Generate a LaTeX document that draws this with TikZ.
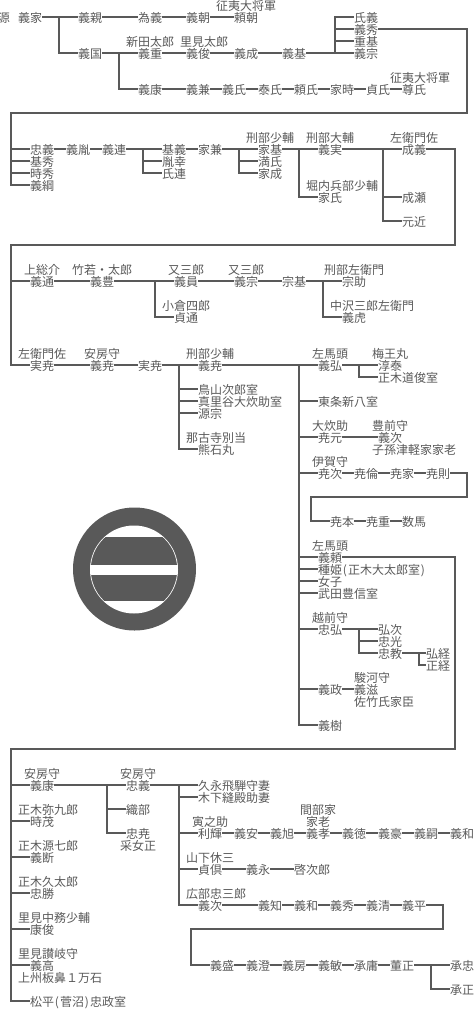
\documentclass[tikz,border=0pt]{standalone}
\usepackage{fontspec}
\setmainfont{Noto Sans CJK JP}
\definecolor{ink}{HTML}{595959}
\newcommand{\hwp}[1]{\makebox[6pt][c]{#1}}
\tikzset{
  nm/.style={anchor=west,inner sep=0pt,outer sep=0pt,text=ink,font=\fontsize{12pt}{12pt}\selectfont,text height=11.5pt,text depth=0.38pt},
  ln/.style={draw=ink,line width=2pt,line join=miter}
}
\begin{document}
\begin{tikzpicture}[x=1pt,y=-1pt]
\useasboundingbox (0,0) rectangle (474,1020);
% block 1
\node[nm] (gen) at (-2,17) {源};
\node[nm] (a1) at (18,17) {義家};
\node[nm] (a2) at (78,17) {義親};
\node[nm] (a3) at (138,17) {為義};
\node[nm] (a4) at (186,17) {義朝};
\node[nm] (a5) at (234,17) {頼朝};
\node[nm] (a5l) at (216,5) {征夷大将軍};
\node[nm] (b1) at (78,53) {義国};
\node[nm] (b2) at (138,53) {義重};
\node[nm] (b2l) at (126,41) {新田太郎};
\node[nm] (b3) at (186,53) {義俊};
\node[nm] (b3l) at (180,41) {里見太郎};
\node[nm] (b4) at (234,53) {義成};
\node[nm] (b5) at (282,53) {義基};
\node[nm] (c1) at (354,17) {氏義};
\node[nm] (c2) at (354,29) {義秀};
\node[nm] (c3) at (354,41) {重基};
\node[nm] (c4) at (354,53) {義宗};
\node[nm] (d1) at (138,89) {義康};
\node[nm] (d2) at (186,89) {義兼};
\node[nm] (d3) at (222,89) {義氏};
\node[nm] (d4) at (258,89) {泰氏};
\node[nm] (d5) at (294,89) {頼氏};
\node[nm] (d6) at (330,89) {家時};
\node[nm] (d7) at (366,89) {貞氏};
\node[nm] (d8) at (402,89) {尊氏};
\node[nm] (d8l) at (390,77) {征夷大将軍};
\draw[ln] (a1.east) -- (a2.west);
\draw[ln] (a2.east) -- (a3.west);
\draw[ln] (a3.east) -- (a4.west);
\draw[ln] (a4.east) -- (a5.west);
\coordinate (j1) at (59,17);
\draw[ln] (j1) |- (b1.west);
\draw[ln] (b1.east) -- (b2.west);
\draw[ln] (b2.east) -- (b3.west);
\draw[ln] (b3.east) -- (b4.west);
\draw[ln] (b4.east) -- (b5.west);
\draw[ln] (b5.east) -- (c4.west);
\coordinate (j2) at (335,53);
\draw[ln] (j2) |- (c1.west);
\draw[ln] (j2 |- c2.west) -- (c2.west);
\draw[ln] (j2 |- c3.west) -- (c3.west);
\coordinate (j3) at (119,53);
\draw[ln] (j3) |- (d1.west);
\draw[ln] (d1.east) -- (d2.west);
\draw[ln] (d2.east) -- (d3.west);
\draw[ln] (d3.east) -- (d4.west);
\draw[ln] (d4.east) -- (d5.west);
\draw[ln] (d5.east) -- (d6.west);
\draw[ln] (d6.east) -- (d7.west);
\draw[ln] (d7.east) -- (d8.west);
% block 2
\node[nm] (e1) at (30,149) {忠義};
\node[nm] (e2) at (30,161) {基秀};
\node[nm] (e3) at (30,173) {時秀};
\node[nm] (e4) at (30,185) {義綱};
\node[nm] (e5) at (66,149) {義胤};
\node[nm] (e6) at (102,149) {義連};
\node[nm] (f1) at (162,149) {基義};
\node[nm] (f2) at (162,161) {胤幸};
\node[nm] (f3) at (162,173) {氏連};
\node[nm] (f4) at (198,149) {家兼};
\node[nm] (g1) at (258,149) {家基};
\node[nm] (g1l) at (246,137) {刑部少輔};
\node[nm] (g2) at (258,161) {満氏};
\node[nm] (g3) at (258,173) {家成};
\node[nm] (h1) at (318,149) {義実};
\node[nm] (h1l) at (306,137) {刑部大輔};
\node[nm] (h2) at (318,197) {家氏};
\node[nm] (h2l) at (306,185) {堀内兵部少輔};
\node[nm] (i1) at (402,149) {成義};
\node[nm] (i1l) at (390,137) {左衛門佐};
\node[nm] (i2) at (402,197) {成瀬};
\node[nm] (i3) at (402,221) {元近};
\coordinate (r1) at (467,29);
\coordinate (r2) at (467,113);
\coordinate (r3) at (11,113);
\draw[ln] (c2.east) -- (r1) -- (r2) -- (r3) |- (e4.west);
\draw[ln] (r3 |- e1.west) -- (e1.west);
\draw[ln] (r3 |- e2.west) -- (e2.west);
\draw[ln] (r3 |- e3.west) -- (e3.west);
\draw[ln] (e1.east) -- (e5.west);
\draw[ln] (e5.east) -- (e6.west);
\draw[ln] (e6.east) -- (f1.west);
\coordinate (j4) at (143,149);
\draw[ln] (j4) |- (f3.west);
\draw[ln] (j4 |- f2.west) -- (f2.west);
\draw[ln] (f1.east) -- (f4.west);
\draw[ln] (f4.east) -- (g1.west);
\coordinate (j5) at (239,149);
\draw[ln] (j5) |- (g3.west);
\draw[ln] (j5 |- g2.west) -- (g2.west);
\draw[ln] (g1.east) -- (h1.west);
\coordinate (j6) at (299,149);
\draw[ln] (j6) |- (h2.west);
\draw[ln] (h1.east) -- (i1.west);
\coordinate (j7) at (383,149);
\draw[ln] (j7) |- (i3.west);
\draw[ln] (j7 |- i2.west) -- (i2.west);
% block 3
\node[nm] (k1) at (30,281) {義通};
\node[nm] (k1l) at (24,269) {上総介};
\node[nm] (k2) at (90,281) {義豊};
\node[nm] (k2l) at (72,269) {竹若・太郎};
\node[nm] (k3) at (174,281) {義員};
\node[nm] (k3l) at (168,269) {又三郎};
\node[nm] (k4) at (174,317) {貞通};
\node[nm] (k4l) at (162,305) {小倉四郎};
\node[nm] (k5) at (234,281) {義宗};
\node[nm] (k5l) at (228,269) {又三郎};
\node[nm] (k6) at (282,281) {宗基};
\node[nm] (k7) at (342,281) {宗助};
\node[nm] (k7l) at (324,269) {刑部左衛門};
\node[nm] (k8) at (342,317) {義虎};
\node[nm] (k8l) at (330,305) {中沢三郎左衛門};
\coordinate (r4) at (455,149);
\coordinate (r5) at (455,245);
\coordinate (r6) at (11,245);
\node[nm] (m1) at (30,365) {実尭};
\node[nm] (m1l) at (18,353) {左衛門佐};
\node[nm] (m2) at (90,365) {義尭};
\node[nm] (m2l) at (84,353) {安房守};
\node[nm] (m3) at (138,365) {実尭};
\node[nm] (m4) at (198,365) {義尭};
\node[nm] (m4l) at (186,353) {刑部少輔};
\node[nm] (m5) at (198,389) {鳥山次郎室};
\node[nm] (m6) at (198,401) {真里谷大炊助室};
\node[nm] (m7) at (198,413) {源宗};
\node[nm] (m8) at (198,449) {熊石丸};
\node[nm] (m8l) at (186,437) {那古寺別当};
\draw[ln] (i1.east) -- (r4) -- (r5) -- (r6) |- (m1.west);
\draw[ln] (r6 |- k1.west) -- (k1.west);
\draw[ln] (k1.east) -- (k2.west);
\draw[ln] (k2.east) -- (k3.west);
\coordinate (j8) at (155,281);
\draw[ln] (j8) |- (k4.west);
\draw[ln] (k3.east) -- (k5.west);
\draw[ln] (k5.east) -- (k6.west);
\draw[ln] (k6.east) -- (k7.west);
\coordinate (j9) at (323,281);
\draw[ln] (j9) |- (k8.west);
\draw[ln] (m1.east) -- (m2.west);
\draw[ln] (m2.east) -- (m3.west);
\draw[ln] (m3.east) -- (m4.west);
\coordinate (j10) at (179,365);
\draw[ln] (j10) |- (m8.west);
\draw[ln] (j10 |- m5.west) -- (m5.west);
\draw[ln] (j10 |- m6.west) -- (m6.west);
\draw[ln] (j10 |- m7.west) -- (m7.west);
% right column
\node[nm] (n1) at (318,365) {義弘};
\node[nm] (n1l) at (312,353) {左馬頭};
\node[nm] (n2) at (378,365) {淳泰};
\node[nm] (n2l) at (372,353) {梅王丸};
\node[nm] (n3) at (378,377) {正木道俊室};
\node[nm] (n4) at (318,401) {東条新八室};
\node[nm] (n5) at (318,437) {尭元};
\node[nm] (n5l) at (312,425) {大炊助};
\node[nm] (n6) at (378,437) {義次};
\node[nm] (n6l) at (372,425) {豊前守};
\node[nm] (n6m) at (372,449) {子孫津軽家家老};
\node[nm] (o1) at (318,473) {尭次};
\node[nm] (o1l) at (312,461) {伊賀守};
\node[nm] (o2) at (354,473) {尭倫};
\node[nm] (o3) at (390,473) {尭家};
\node[nm] (o4) at (426,473) {尭則};
\node[nm] (o5) at (330,521) {尭本};
\node[nm] (o6) at (366,521) {尭重};
\node[nm] (o7) at (402,521) {数馬};
\node[nm] (p1) at (318,557) {義頼};
\node[nm] (p1l) at (312,545) {左馬頭};
\node[nm] (p2) at (318,569) {種姫\hwp{(}正木大太郎室\hwp{)}};
\node[nm] (p3) at (318,581) {女子};
\node[nm] (p4) at (318,593) {武田豊信室};
\node[nm] (q1) at (318,629) {忠弘};
\node[nm] (q1l) at (312,617) {越前守};
\node[nm] (q2) at (378,629) {弘次};
\node[nm] (q3) at (378,641) {忠光};
\node[nm] (q4) at (378,653) {忠教};
\node[nm] (q5) at (426,653) {弘経};
\node[nm] (q6) at (426,665) {正経};
\node[nm] (s1) at (318,689) {義政};
\node[nm] (s2) at (354,689) {義滋};
\node[nm] (s2l) at (354,677) {駿河守};
\node[nm] (s2m) at (354,701) {佐竹氏家臣};
\node[nm] (s3) at (318,725) {義樹};
\draw[ln] (m4.east) -- (n1.west);
\coordinate (j11) at (299,365);
\draw[ln] (j11) |- (s3.west);
\draw[ln] (j11 |- n4.west) -- (n4.west);
\draw[ln] (j11 |- n5.west) -- (n5.west);
\draw[ln] (j11 |- o1.west) -- (o1.west);
\draw[ln] (j11 |- p1.west) -- (p1.west);
\draw[ln] (j11 |- p2.west) -- (p2.west);
\draw[ln] (j11 |- p3.west) -- (p3.west);
\draw[ln] (j11 |- p4.west) -- (p4.west);
\draw[ln] (j11 |- q1.west) -- (q1.west);
\draw[ln] (j11 |- s1.west) -- (s1.west);
\draw[ln] (n1.east) -- (n2.west);
\coordinate (j12) at (359,365);
\draw[ln] (j12) |- (n3.west);
\draw[ln] (n5.east) -- (n6.west);
\draw[ln] (o1.east) -- (o2.west);
\draw[ln] (o2.east) -- (o3.west);
\draw[ln] (o3.east) -- (o4.west);
\coordinate (r7) at (467,473);
\coordinate (r8) at (467,497);
\coordinate (r9) at (311,497);
\draw[ln] (o4.east) -- (r7) -- (r8) -- (r9) |- (o5.west);
\draw[ln] (o5.east) -- (o6.west);
\draw[ln] (o6.east) -- (o7.west);
\draw[ln] (q1.east) -- (q2.west);
\coordinate (j13) at (359,629);
\draw[ln] (j13) |- (q4.west);
\draw[ln] (j13 |- q3.west) -- (q3.west);
\draw[ln] (q4.east) -- (q5.west);
\coordinate (j14) at (419,653);
\draw[ln] (j14) |- (q6.west);
\draw[ln] (s1.east) -- (s2.west);
% bottom block
\node[nm] (t1) at (30,785) {義康};
\node[nm] (t1l) at (24,773) {安房守};
\node[nm] (t2) at (30,821) {時茂};
\node[nm] (t2l) at (18,809) {正木弥九郎};
\node[nm] (t3) at (30,857) {義断};
\node[nm] (t3l) at (18,845) {正木源七郎};
\node[nm] (t4) at (30,893) {忠勝};
\node[nm] (t4l) at (18,881) {正木久太郎};
\node[nm] (t5) at (30,929) {康俊};
\node[nm] (t5l) at (18,917) {里見中務少輔};
\node[nm] (t6) at (30,965) {義高};
\node[nm] (t6l) at (18,953) {里見讃岐守};
\node[nm] (t6m) at (18,977) {上州板鼻１万石};
\node[nm] (t7) at (30,1001) {松平\hwp{(}菅沼\hwp{)}忠政室};
\node[nm] (u1) at (126,785) {忠義};
\node[nm] (u1l) at (120,773) {安房守};
\node[nm] (u2) at (126,809) {織部};
\node[nm] (u3) at (126,833) {忠尭};
\node[nm] (u3m) at (120,845) {采女正};
\node[nm] (v1) at (198,785) {久永飛騨守妻};
\node[nm] (v2) at (198,797) {木下縫殿助妻};
\node[nm] (w1) at (198,833) {利輝};
\node[nm] (w1l) at (192,821) {寅之助};
\node[nm] (w2) at (234,833) {義安};
\node[nm] (w3) at (270,833) {義旭};
\node[nm] (w4) at (306,833) {義孝};
\node[nm] (w4l) at (306,821) {家老};
\node[nm] (w4k) at (300,809) {間部家};
\node[nm] (w5) at (342,833) {義徳};
\node[nm] (w6) at (378,833) {義豪};
\node[nm] (w7) at (414,833) {義嗣};
\node[nm] (w8) at (450,833) {義和};
\node[nm] (x1) at (198,869) {貞倶};
\node[nm] (x1l) at (186,857) {山下休三};
\node[nm] (x2) at (246,869) {義永};
\node[nm] (x3) at (294,869) {啓次郎};
\node[nm] (y1) at (198,905) {義次};
\node[nm] (y1l) at (186,893) {広部忠三郎};
\node[nm] (y2) at (258,905) {義知};
\node[nm] (y3) at (294,905) {義和};
\node[nm] (y4) at (330,905) {義秀};
\node[nm] (y5) at (366,905) {義清};
\node[nm] (y6) at (402,905) {義平};
\node[nm] (z1) at (210,965) {義盛};
\node[nm] (z2) at (246,965) {義澄};
\node[nm] (z3) at (282,965) {義房};
\node[nm] (z4) at (318,965) {義敏};
\node[nm] (z5) at (354,965) {承庸};
\node[nm] (z6) at (390,965) {董正};
\node[nm] (z7) at (450,965) {承忠};
\node[nm] (z8) at (450,989) {承正};
\coordinate (r10) at (455,557);
\coordinate (r11) at (455,749);
\coordinate (r12) at (11,749);
\draw[ln] (p1.east) -- (r10) -- (r11) -- (r12) |- (t7.west);
\draw[ln] (r12 |- t1.west) -- (t1.west);
\draw[ln] (r12 |- t2.west) -- (t2.west);
\draw[ln] (r12 |- t3.west) -- (t3.west);
\draw[ln] (r12 |- t4.west) -- (t4.west);
\draw[ln] (r12 |- t5.west) -- (t5.west);
\draw[ln] (r12 |- t6.west) -- (t6.west);
\draw[ln] (t1.east) -- (u1.west);
\coordinate (j15) at (107,785);
\draw[ln] (j15) |- (u3.west);
\draw[ln] (j15 |- u2.west) -- (u2.west);
\draw[ln] (u1.east) -- (v1.west);
\coordinate (j16) at (179,785);
\draw[ln] (j16) |- (y1.west);
\draw[ln] (j16 |- v2.west) -- (v2.west);
\draw[ln] (j16 |- w1.west) -- (w1.west);
\draw[ln] (j16 |- x1.west) -- (x1.west);
\draw[ln] (w1.east) -- (w2.west);
\draw[ln] (w2.east) -- (w3.west);
\draw[ln] (w3.east) -- (w4.west);
\draw[ln] (w4.east) -- (w5.west);
\draw[ln] (w5.east) -- (w6.west);
\draw[ln] (w6.east) -- (w7.west);
\draw[ln] (w7.east) -- (w8.west);
\draw[ln] (x1.east) -- (x2.west);
\draw[ln] (x2.east) -- (x3.west);
\draw[ln] (y1.east) -- (y2.west);
\draw[ln] (y2.east) -- (y3.west);
\draw[ln] (y3.east) -- (y4.west);
\draw[ln] (y4.east) -- (y5.west);
\draw[ln] (y5.east) -- (y6.west);
\coordinate (r13) at (443,905);
\coordinate (r14) at (443,929);
\coordinate (r15) at (191,929);
\draw[ln] (y6.east) -- (r13) -- (r14) -- (r15) |- (z1.west);
\draw[ln] (z1.east) -- (z2.west);
\draw[ln] (z2.east) -- (z3.west);
\draw[ln] (z3.east) -- (z4.west);
\draw[ln] (z4.east) -- (z5.west);
\draw[ln] (z5.east) -- (z6.west);
\draw[ln] (z6.east) -- (z7.west);
\coordinate (j17) at (431,965);
\draw[ln] (j17) |- (z8.west);
% crest
\fill[ink] (134.5,569) circle[radius=61.5];
\fill[white] (134,569.5) circle[radius=44];
\begin{scope}
\clip (134,569.5) circle[radius=43.2];
\fill[ink] (85,537) rectangle (183,565);
\fill[ink] (85,575) rectangle (183,601);
\end{scope}
\end{tikzpicture}
\end{document}
